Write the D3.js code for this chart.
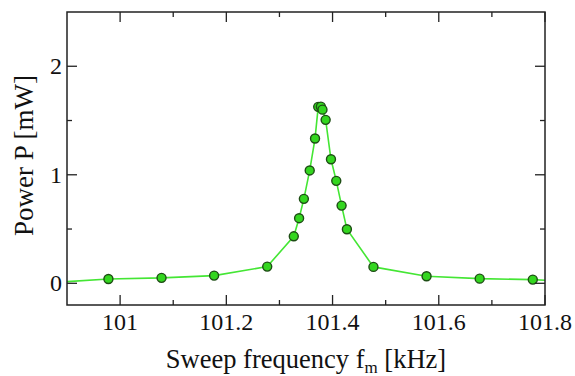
<!DOCTYPE html>
<html>
<head>
<meta charset="utf-8">
<script src="https://cdn.jsdelivr.net/npm/d3@7"></script>
<style>
  body { margin: 0; background: #fff; }
</style>
</head>
<body>
<div id="chart"></div>
<script>
// sweep frequency (kHz) and measured power (mW)
const freq = [100.878, 100.978, 101.078, 101.177, 101.277, 101.327, 101.337, 101.346, 101.357,
  101.367, 101.373, 101.378, 101.381, 101.387, 101.397, 101.407, 101.417, 101.427, 101.477,
  101.577, 101.677, 101.777, 101.877];
const power = [0.008, 0.04, 0.05, 0.071, 0.154, 0.433, 0.6, 0.778, 1.04,
  1.334, 1.626, 1.628, 1.6, 1.506, 1.143, 0.944, 0.716, 0.498, 0.151,
  0.065, 0.043, 0.034, 0.01];
const xTicks = [101, 101.2, 101.4, 101.6, 101.8];
const xMinor = [101.1, 101.3, 101.5, 101.7];
const yTicks = [0, 1, 2];
const yMinor = [0.5, 1.5];

const margin = { top: 12, right: 30, bottom: 71, left: 67 };
const width = 575 - margin.left - margin.right;
const height = 376 - margin.top - margin.bottom;
const serif = "'Liberation Serif', 'Times New Roman', Times, serif";

const svg = d3.select('#chart')
  .append('svg')
  .attr('width', 575)
  .attr('height', 376)
  .attr('font-family', serif)
  .append('g')
  .attr('transform', `translate(${margin.left},${margin.top})`);

const x = d3.scaleLinear().domain([100.9, 101.8]).range([0, width]);
const y = d3.scaleLinear().domain([-0.2, 2.5]).range([height, 0]);

svg.append('clipPath').attr('id', 'clip')
  .append('rect').attr('width', width).attr('height', height);

const data = freq.map((f, i) => ({ f: f, p: power[i] }));

// line
const line = d3.line().x(d => x(d.f)).y(d => y(d.p));
svg.append('path')
  .datum(data)
  .attr('clip-path', 'url(#clip)')
  .attr('d', line)
  .style('fill', 'none')
  .style('stroke', '#44e634')
  .style('stroke-width', 1.6);

// markers
svg.append('g')
  .attr('clip-path', 'url(#clip)')
  .selectAll('circle')
  .data(data)
  .enter()
  .append('circle')
  .attr('cx', d => x(d.f))
  .attr('cy', d => y(d.p))
  .attr('r', 4.5)
  .style('fill', '#33d61f')
  .style('stroke', '#1d4d14')
  .style('stroke-width', 1.4);

// ticks, drawn inward on all four sides
const tickStroke = '#222';
function ticks(g, vals, len, horiz) {
  vals.forEach(v => {
    if (horiz) {
      g.append('line').attr('x1', x(v)).attr('x2', x(v)).attr('y1', height).attr('y2', height - len);
      g.append('line').attr('x1', x(v)).attr('x2', x(v)).attr('y1', 0).attr('y2', len);
    } else {
      g.append('line').attr('y1', y(v)).attr('y2', y(v)).attr('x1', 0).attr('x2', len);
      g.append('line').attr('y1', y(v)).attr('y2', y(v)).attr('x1', width).attr('x2', width - len);
    }
  });
}
const tg = svg.append('g').style('stroke', tickStroke).style('stroke-width', 1.3);
ticks(tg, xTicks, 10, true);
ticks(tg, xMinor, 5, true);
ticks(tg, yTicks, 10, false);
ticks(tg, yMinor, 5, false);

// frame
svg.append('rect')
  .attr('width', width).attr('height', height)
  .style('fill', 'none').style('stroke', tickStroke).style('stroke-width', 1.5);

// tick labels
svg.append('g').selectAll('text').data(xTicks).enter().append('text')
  .attr('x', d => x(d)).attr('y', height + 25)
  .attr('text-anchor', 'middle')
  .attr('fill', '#111')
  .style('font-size', '24px')
  .text(d => d3.format('')(d));

svg.append('g').selectAll('text').data(yTicks).enter().append('text')
  .attr('x', -5).attr('y', d => y(d) + 8)
  .attr('text-anchor', 'end')
  .attr('fill', '#111')
  .style('font-size', '24px')
  .text(d => d);

// axis titles
const xl = svg.append('text')
  .attr('x', width / 2).attr('y', height + 63)
  .attr('text-anchor', 'middle')
  .attr('fill', '#111')
  .style('font-size', '26.5px');
xl.append('tspan').text('Sweep frequency f');
xl.append('tspan').attr('dy', 5).style('font-size', '17px').text('m');
xl.append('tspan').attr('dy', -5).text(' [kHz]');

svg.append('text')
  .attr('transform', `translate(-34,${height / 2 - 3}) rotate(-90)`)
  .attr('text-anchor', 'middle')
  .attr('fill', '#111')
  .style('font-size', '27px')
  .text('Power P [mW]');
</script>
</body>
</html>
